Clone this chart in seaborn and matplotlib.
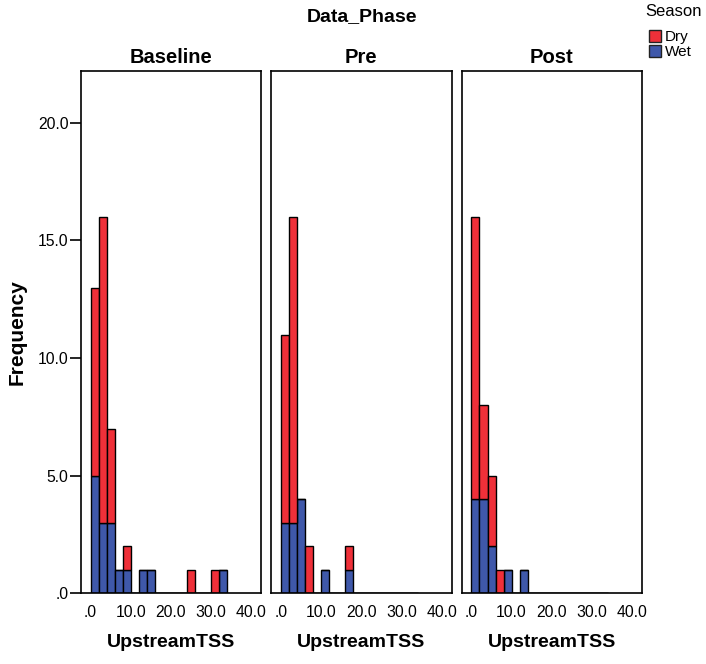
import numpy as np
import pandas as pd
import matplotlib
matplotlib.use("Agg")
import matplotlib.pyplot as plt
from matplotlib.patches import Patch
import seaborn as sns

# ---- data (counts per 2-unit bin, bins start at 0) ----
phases = ["Baseline", "Pre", "Post"]
seasons = ["Dry", "Wet"]
bin_width = 2.0
bin_starts = [0, 2, 4, 6, 8, 10, 12, 14, 16, 18, 20, 22, 24, 26, 28, 30, 32]

baseline_dry = [8, 13, 4, 0, 1, 0, 0, 0, 0, 0, 0, 0, 1, 0, 0, 1, 0]
baseline_wet = [5, 3, 3, 1, 1, 0, 1, 1, 0, 0, 0, 0, 0, 0, 0, 0, 1]
pre_dry      = [8, 13, 0, 2, 0, 0, 0, 0, 1, 0, 0, 0, 0, 0, 0, 0, 0]
pre_wet      = [3, 3, 4, 0, 0, 1, 0, 0, 1, 0, 0, 0, 0, 0, 0, 0, 0]
post_dry     = [12, 4, 3, 1, 0, 0, 0, 0, 0, 0, 0, 0, 0, 0, 0, 0, 0]
post_wet     = [4, 4, 2, 0, 1, 0, 1, 0, 0, 0, 0, 0, 0, 0, 0, 0, 0]

x_ticks = [0, 10, 20, 30, 40]
x_ticklabels = [".0", "10.0", "20.0", "30.0", "40.0"]
y_ticks = [0, 5, 10, 15, 20]
y_ticklabels = [".0", "5.0", "10.0", "15.0", "20.0"]

colors = {"Dry": "#EF3039", "Wet": "#3F58AA"}

counts = {
    ("Baseline", "Dry"): baseline_dry, ("Baseline", "Wet"): baseline_wet,
    ("Pre", "Dry"): pre_dry, ("Pre", "Wet"): pre_wet,
    ("Post", "Dry"): post_dry, ("Post", "Wet"): post_wet,
}
rows = []
for (ph, se), cnt in counts.items():
    for start, c in zip(bin_starts, cnt):
        rows += [(ph, se, start + bin_width / 2)] * c
df = pd.DataFrame(rows, columns=["Data_Phase", "Season", "UpstreamTSS"])

sns.set_style("white")
plt.rcParams["font.family"] = ["Liberation Sans", "DejaVu Sans"]
plt.rcParams["text.color"] = "black"
plt.rcParams["axes.labelcolor"] = "black"
plt.rcParams["xtick.color"] = "black"
plt.rcParams["ytick.color"] = "black"

fig, axes = plt.subplots(1, 3, figsize=(7.06, 6.64), dpi=100, sharey=True)
fig.subplots_adjust(left=0.1147, right=0.9092, bottom=0.1062, top=0.8931, wspace=0.057)

bins = np.arange(0, bin_starts[-1] + 2 * bin_width, bin_width)
for i, (ax, ph) in enumerate(zip(axes, phases)):
    sub = df[df["Data_Phase"] == ph]
    sns.histplot(data=sub, x="UpstreamTSS", hue="Season", hue_order=seasons,
                 palette=colors, bins=bins, multiple="stack", alpha=1,
                 edgecolor="black", linewidth=1.0, legend=False, ax=ax)
    ax.set_xlim(-2.4, 42.4)
    ax.set_ylim(0, 22.2)
    ax.set_xticks(x_ticks)
    ax.set_xticklabels(x_ticklabels, fontsize=11.3)
    ax.set_xlabel("UpstreamTSS", fontsize=14, fontweight="bold", labelpad=10)
    ax.set_title(ph, fontsize=14.5, fontweight="bold", pad=6, color="black")
    for s in ax.spines.values():
        s.set_visible(True)
        s.set_color("black")
        s.set_linewidth(1.2)
    ax.tick_params(axis="x", direction="out", length=5.5, width=1.2, color="black", pad=3,
                   labelcolor="black")
    if i == 0:
        ax.set_yticks(y_ticks)
        ax.set_yticklabels(y_ticklabels, fontsize=11.3)
        ax.tick_params(axis="y", direction="out", length=8, width=1.2, color="black", pad=1,
                       left=True, labelcolor="black")
        ax.set_ylabel("Frequency", fontsize=15, fontweight="bold", labelpad=8)
    else:
        ax.tick_params(axis="y", left=False, labelleft=False)
        ax.set_ylabel("")

fig.text(361.5 / 706, 1 - 17 / 664, "Data_Phase", fontsize=14, fontweight="bold",
         ha="center", va="center")
fig.text(645 / 706, 1 - 12 / 664, "Season", fontsize=12, ha="left", va="center")
handles = [Patch(facecolor=colors[s], edgecolor="#222222", linewidth=1.0) for s in seasons]
fig.legend(handles, seasons, loc="upper left", bbox_to_anchor=(649 / 706, 1 - 30 / 664),
           frameon=False, fontsize=11, handlelength=0.8, handleheight=0.8,
           handletextpad=0.25, labelspacing=0.05, borderpad=0, borderaxespad=0)

fig.savefig("out.png", dpi=100)
